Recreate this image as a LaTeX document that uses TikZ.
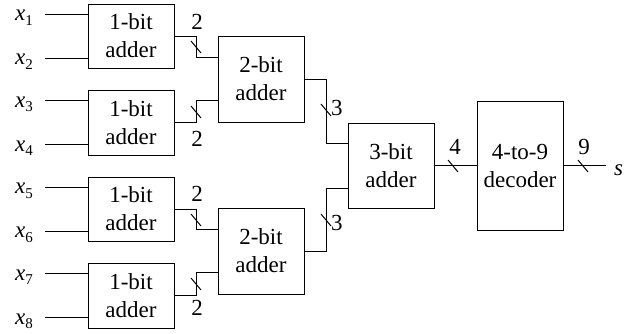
\documentclass[tikz,border=0pt]{standalone}
\usepackage{fontspec}
\newfontfamily\tms{Liberation Serif}
\usetikzlibrary{calc}
\newcommand{\xin}[1]{\textit{x}\raisebox{-4.5pt}{\fontsize{15}{15}\selectfont #1}}
\begin{document}
\begin{tikzpicture}[x=1pt,y=-1pt,
  box/.style={draw, line width=0.9pt, minimum width=86pt, inner sep=0pt, align=center,
    font=\tms\fontsize{23}{28}\selectfont},
  wire/.style={line width=1pt},
  lbl/.style={inner sep=0pt, font=\tms\fontsize{23}{28}\selectfont},
  xl/.style={inner sep=0pt, anchor=base east, font=\tms\fontsize{23}{28}\selectfont}]
\useasboundingbox (0,0) rectangle (641,333);

% boxes
\node[box, minimum height=64pt] (a1) at (131,36) {1-bit\\adder};
\node[box, minimum height=65pt] (a2) at (131,122.5) {1-bit\\adder};
\node[box, minimum height=64pt] (a3) at (131,209) {1-bit\\adder};
\node[box, minimum height=65pt] (a4) at (131,295.5) {1-bit\\adder};
\node[box, minimum height=86pt] (b1) at (261,79) {2-bit\\adder};
\node[box, minimum height=86pt] (b2) at (261,251) {2-bit\\adder};
\node[box, minimum height=85pt] (c) at (391,165.5) {3-bit\\adder};
\node[box, minimum height=129pt] (d) at (520,165.5) {4-to-9\\decoder};

% inputs
\foreach \i/\y in {1/14,2/58,3/100.5,4/144.5,5/187,6/231,7/273.5,8/317.5}{
  \coordinate (i\i) at (45,\y);
  \node[xl] (x\i) at (33,\y+6.5) {\xin{\i}};
}
\draw[wire] (i1) -- (i1 -| a1.west);
\draw[wire] (i2) -- (i2 -| a1.west);
\draw[wire] (i3) -- (i3 -| a2.west);
\draw[wire] (i4) -- (i4 -| a2.west);
\draw[wire] (i5) -- (i5 -| a3.west);
\draw[wire] (i6) -- (i6 -| a3.west);
\draw[wire] (i7) -- (i7 -| a4.west);
\draw[wire] (i8) -- (i8 -| a4.west);

% 1-bit to 2-bit
\coordinate (j1) at (196,57);
\coordinate (j2) at (196,100);
\coordinate (j3) at (196,229);
\coordinate (j4) at (196,272);
\draw[wire] (a1.east) -| (j1) -- (j1 -| b1.west);
\draw[wire] (a2.east) -| (j2) -- (j2 -| b1.west);
\draw[wire] (a3.east) -| (j3) -- (j3 -| b2.west);
\draw[wire] (a4.east) -| (j4) -- (j4 -| b2.west);

% 2-bit to 3-bit
\coordinate (k1) at (326,143);
\coordinate (k2) at (326,188);
\draw[wire] (b1.east) -| (k1) -- (k1 -| c.west);
\draw[wire] (b2.east) -| (k2) -- (k2 -| c.west);

% 3-bit to decoder, output
\draw[wire] (c.east) -- (d.west);
\coordinate (o) at (606,165.5);
\draw[wire] (d.east) -- (o);

% slashes
\foreach \n/\x/\y in {s1/196/47,s2/196/112,s3/196/220,s4/196/284,s5/326/110,s6/326/220,s7/453/166,s8/583/166}{
  \coordinate (\n) at (\x,\y);
  \draw[wire] ($(\n)+(-5,-6)$) -- ($(\n)+(5,6)$);
}

% width labels
\node[lbl, anchor=base] (l1) at (197,29.5) {2};
\node[lbl, anchor=base] (l2) at (197,146) {2};
\node[lbl, anchor=base] (l3) at (197,201.5) {2};
\node[lbl, anchor=base] (l4) at (197,315) {2};
\node[lbl, anchor=base west] (l5) at (331,115) {3};
\node[lbl, anchor=base west] (l6) at (331,230) {3};
\node[lbl, anchor=base] (l7) at (455,154) {4};
\node[lbl, anchor=base] (l8) at (584,154) {9};
\node[lbl, anchor=base west] (sl) at (614,175) {\textit{s}};
\end{tikzpicture}
\end{document}
